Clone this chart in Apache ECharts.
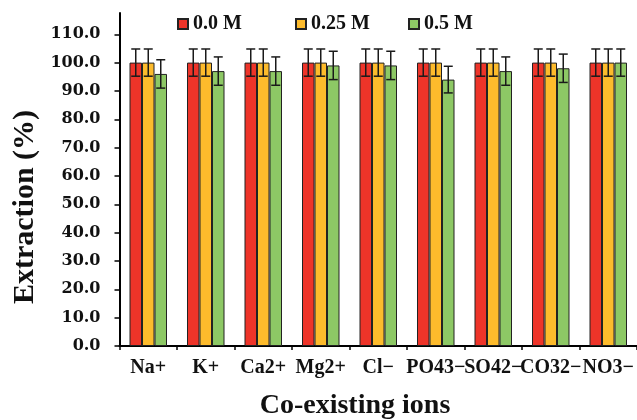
<!DOCTYPE html>
<html>
<head>
<meta charset="utf-8">
<script src="https://cdn.jsdelivr.net/npm/echarts@6/dist/echarts.min.js"></script>
<style>html,body{margin:0;padding:0;background:#fff;}#c{width:637px;height:420px;}</style>
</head>
<body>
<div id="c"></div>
<script>
const categories = ['Na+', 'K+', 'Ca2+', 'Mg2+', 'Cl−', 'PO43−', 'SO42−', 'CO32−', 'NO3−'];
const seriesNames = ['0.0 M', '0.25 M', '0.5 M'];
const values0 = [100, 100, 100, 100, 100, 100, 100, 100, 100];
const values25 = [100, 100, 100, 100, 100, 100, 100, 100, 100];
const values5 = [96, 97, 97, 99, 99, 94, 97, 98, 100];
const err0 = [4.8, 4.8, 4.8, 4.8, 4.8, 4.8, 4.8, 4.8, 4.8];
const err25 = [4.8, 4.8, 4.8, 4.8, 4.8, 4.8, 4.8, 4.8, 4.8];
const err5 = [5, 5, 5, 5, 5, 4.7, 5, 5, 4.8];
const yTicks = [0, 10, 20, 30, 40, 50, 60, 70, 80, 90, 100, 110];

const colors = ['#EE3429', '#FDBB2C', '#8DC865'];
const allValues = [values0, values25, values5];
const allErr = [err0, err25, err5];
const BAR_W = 12.5;
const serif = 'Liberation Serif';

const chart = echarts.init(document.getElementById('c'));

const barSeries = seriesNames.map((n, i) => ({
  name: n,
  type: 'bar',
  data: allValues[i],
  barWidth: BAR_W,
  barGap: '0%',
  itemStyle: { color: colors[i], borderColor: '#222', borderWidth: 1 },
  z: 2
}));

const errSeries = seriesNames.map((n, i) => ({
  name: n + ' err',
  type: 'custom',
  z: 5,
  data: allValues[i].map((v, k) => [k, v, allErr[i][k]]),
  renderItem: function (params, api) {
    const k = api.value(0), v = api.value(1), e = api.value(2);
    const hi = api.coord([k, v + e]);
    const lo = api.coord([k, v - e]);
    const x = hi[0] + (i - 1) * BAR_W;
    const cap = 4.5;
    const st = { stroke: '#1a1a1a', lineWidth: 1.5 };
    return {
      type: 'group',
      children: [
        { type: 'line', shape: { x1: x, y1: hi[1], x2: x, y2: lo[1] }, style: st },
        { type: 'line', shape: { x1: x - cap, y1: hi[1], x2: x + cap, y2: hi[1] }, style: st },
        { type: 'line', shape: { x1: x - cap, y1: lo[1], x2: x + cap, y2: lo[1] }, style: st }
      ]
    };
  }
}));

const legendLefts = [172, 290, 403];
const legends = seriesNames.map((n, i) => ({
  data: [n],
  left: legendLefts[i],
  top: 9,
  icon: 'rect',
  itemWidth: 10,
  itemHeight: 10,
  itemGap: 6,
  textStyle: { fontFamily: serif, fontWeight: 'bold', fontSize: 20, color: '#111', padding: [0, 0, 0, 0] }
}));

chart.setOption({
  animation: false,
  backgroundColor: '#fff',
  legend: legends,
  grid: { left: 119.5, right: 0, top: 13, bottom: 74 },
  xAxis: {
    type: 'category',
    data: categories,
    axisLine: { lineStyle: { color: '#000', width: 2 } },
    axisTick: { show: true, length: 4, lineStyle: { color: '#000', width: 1.5 } },
    axisLabel: { interval: 0, margin: 12, fontFamily: serif, fontWeight: 'bold', fontSize: 20, color: '#111' }
  },
  yAxis: {
    type: 'value',
    min: 0,
    max: 117.5,
    interval: 10,
    splitLine: { show: false },
    axisLine: { show: true, lineStyle: { color: '#000', width: 2 } },
    axisTick: { show: true, length: 5, customValues: yTicks, lineStyle: { color: '#000', width: 1.5 } },
    axisLabel: {
      customValues: yTicks,
      margin: 19,
      fontFamily: 'DejaVu Serif', fontWeight: 'bold', fontSize: 16, color: '#111',
      formatter: v => v.toFixed(1)
    }
  },
  graphic: [
    {
      type: 'text', x: 355, y: 406,
      style: { text: 'Co-existing ions', fontFamily: serif, fontWeight: 'bold', fontSize: 28, fill: '#111', textAlign: 'center', textVerticalAlign: 'middle' }
    },
    {
      type: 'text', x: 25, y: 207, rotation: Math.PI / 2,
      style: { text: 'Extraction (%)', fontFamily: serif, fontWeight: 'bold', fontSize: 30, fill: '#111', textAlign: 'center', textVerticalAlign: 'middle' }
    }
  ],
  series: [...barSeries, ...errSeries]
});
</script>
</body>
</html>
